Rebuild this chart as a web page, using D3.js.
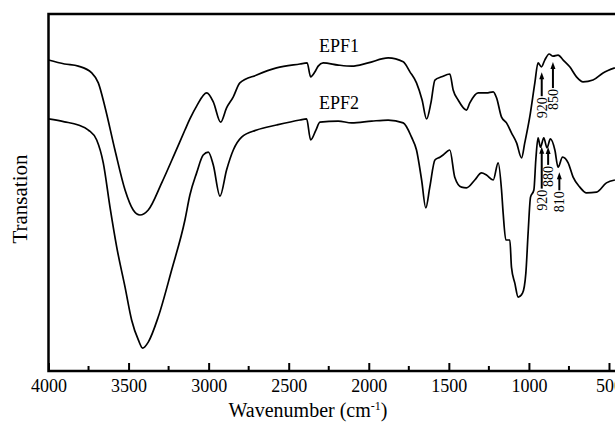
<!DOCTYPE html>
<html>
<head>
<meta charset="utf-8">
<script src="https://cdn.jsdelivr.net/npm/d3@7"></script>
<style>
  body { margin: 0; background: #fff; }
  text { font-family: "Liberation Serif", "Times New Roman", serif; fill: #000; }
</style>
</head>
<body>
<svg id="chart" width="615" height="423"></svg>
<script>
// wavenumber (cm-1) and transmittance (arbitrary)
var epf1Wn = [4000, 3900, 3814, 3730, 3689, 3647, 3585, 3522, 3471, 3429, 3377, 3293, 3210, 3148, 3117, 3075, 3012, 2971, 2925, 2888, 2846, 2805, 2700, 2576, 2430, 2385, 2363, 2336, 2316, 2285, 2191, 2107, 2004, 1879, 1785, 1743, 1702, 1667, 1639, 1612, 1587, 1545, 1494, 1473, 1442, 1390, 1369, 1317, 1265, 1223, 1202, 1171, 1140, 1109, 1077, 1046, 1026, 995, 963, 943, 922, 901, 874, 849, 818, 786, 745, 703, 662, 600, 537, 463];
var epf1T  = [87.1, 86.0, 85.4, 83.5, 80.7, 73.9, 61.9, 50.7, 45.1, 43.7, 45.1, 52.7, 61.1, 67.5, 70.6, 74.2, 77.9, 75.4, 69.7, 73.7, 76.8, 80.7, 82.9, 84.9, 86.0, 86.3, 82.4, 83.8, 85.4, 86.3, 85.7, 85.4, 86.3, 87.7, 86.6, 83.8, 80.7, 75.9, 70.6, 75.1, 81.5, 82.4, 83.2, 78.7, 75.9, 73.1, 75.1, 77.9, 77.9, 78.2, 76.5, 71.1, 69.5, 66.7, 63.9, 59.7, 63.9, 71.1, 80.7, 86.3, 85.2, 87.1, 88.8, 88.2, 88.5, 87.1, 85.2, 82.4, 81.0, 81.5, 83.5, 84.9];

var epf2Wn = [4000, 3900, 3814, 3751, 3699, 3658, 3616, 3574, 3522, 3481, 3439, 3412, 3377, 3315, 3231, 3148, 3117, 3075, 3034, 3002, 2971, 2929, 2888, 2846, 2794, 2700, 2576, 2430, 2388, 2363, 2330, 2305, 2191, 2107, 1982, 1879, 1785, 1733, 1702, 1670, 1644, 1619, 1587, 1556, 1536, 1494, 1463, 1421, 1390, 1338, 1296, 1265, 1223, 1192, 1171, 1161, 1144, 1119, 1109, 1088, 1067, 1040, 1019, 1005, 990, 969, 957, 943, 928, 907, 887, 866, 838, 818, 790, 755, 724, 682, 641, 578, 516, 463];
var epf2T  = [70.6, 69.8, 68.9, 67.5, 64.7, 58.3, 45.9, 34.7, 23.5, 14.3, 8.7, 6.4, 8.1, 15.1, 28.3, 42.3, 49.3, 55.5, 60.5, 61.3, 57.7, 49.0, 56.3, 61.9, 65.5, 67.5, 68.9, 70.3, 70.6, 64.7, 67.5, 69.7, 70.0, 69.5, 70.0, 70.3, 69.5, 65.5, 61.9, 53.5, 45.7, 51.5, 59.1, 59.9, 60.5, 61.9, 54.3, 51.5, 51.3, 53.5, 55.5, 54.9, 53.5, 58.3, 50.7, 44.3, 36.7, 36.7, 29.1, 24.6, 20.7, 21.8, 27.5, 38.7, 48.7, 50.7, 59.1, 65.3, 62.7, 65.3, 62.5, 65.0, 61.9, 57.1, 59.9, 58.3, 54.3, 51.5, 49.9, 50.1, 52.7, 53.5];

var seriesNames = ["EPF1", "EPF2"];
var xTicks = [4000, 3500, 3000, 2500, 2000, 1500, 1000, 500];
var xMinor = [3750, 3250, 2750, 2250, 1750, 1250, 750];

// band labels marked with arrows
var epf1Bands = [920, 850];
var epf2Bands = [920, 880, 810];

var svg = d3.select("#chart");
var margin = {left: 48.5, top: 14, bottom: 371, right: 625};

var x = d3.scaleLinear().domain([4000, 400]).range([margin.left, margin.right]);
var y = d3.scaleLinear().domain([0, 100]).range([margin.bottom, margin.top]);

var line = d3.line()
    .x(d => x(d[0]))
    .y(d => y(d[1]))
    .curve(d3.curveMonotoneX);

var epf1 = d3.zip(epf1Wn, epf1T);
var epf2 = d3.zip(epf2Wn, epf2T);

[epf1, epf2].forEach(s => {
    svg.append("path")
       .datum(s)
       .attr("d", line)
       .attr("fill", "none")
       .attr("stroke", "#000")
       .attr("stroke-width", 1.7)
       .attr("stroke-linejoin", "round");
});

// frame
svg.append("rect")
   .attr("x", margin.left)
   .attr("y", margin.top)
   .attr("width", margin.right - margin.left)
   .attr("height", margin.bottom - margin.top)
   .attr("fill", "none")
   .attr("stroke", "#000")
   .attr("stroke-width", 2.5);

// bottom axis, ticks pointing in
var xAxis = svg.append("g")
   .attr("transform", "translate(0," + margin.bottom + ")")
   .call(d3.axisBottom(x).tickValues(xTicks).tickSize(-8).tickPadding(8).tickFormat(d3.format("d")));

xAxis.select(".domain").remove();
xAxis.selectAll(".tick line").attr("stroke-width", 2);
xAxis.selectAll("text").style("font-size", "18px").attr("font-family", null);

svg.append("g")
   .attr("transform", "translate(0," + margin.bottom + ")")
   .selectAll("line")
   .data(xMinor)
   .enter()
   .append("line")
   .attr("x1", d => x(d))
   .attr("x2", d => x(d))
   .attr("y1", 0)
   .attr("y2", -5)
   .attr("stroke", "#000")
   .attr("stroke-width", 2);

// axis titles
var title = svg.append("text")
   .attr("x", 308)
   .attr("y", 417)
   .attr("text-anchor", "middle")
   .style("font-size", "20px");
title.append("tspan").text("Wavenumber (cm");
title.append("tspan").attr("dy", -7).style("font-size", "12px").text("-1");
title.append("tspan").attr("dy", 7).text(")");

svg.append("text")
   .attr("transform", "translate(27,199) rotate(-90)")
   .attr("text-anchor", "middle")
   .style("font-size", "21px")
   .text("Transation");

// series names
svg.selectAll(".sname")
   .data(seriesNames)
   .enter()
   .append("text")
   .attr("class", "sname")
   .attr("x", 339)
   .attr("y", (d, i) => i === 0 ? 52 : 109)
   .attr("text-anchor", "middle")
   .style("font-size", "18px")
   .text(d => d);

function bandArrows(series, bands, gap, lens) {
    var valAt = wn => {
        var i = d3.bisector(d => -d[0]).left(series, -wn);
        var a = series[Math.max(i - 1, 0)], b = series[Math.min(i, series.length - 1)];
        if (a[0] === b[0]) return a[1];
        return a[1] + (b[1] - a[1]) * (wn - a[0]) / (b[0] - a[0]);
    };
    bands.forEach((wn, k) => {
        var cx = x(wn);
        var top = y(valAt(wn)) + gap[k];
        var bot = top + lens[k];
        svg.append("line")
           .attr("x1", cx).attr("x2", cx)
           .attr("y1", bot).attr("y2", top + 5)
           .attr("stroke", "#000")
           .attr("stroke-width", 2);
        svg.append("path")
           .attr("d", d3.line()([[cx - 2.5, top + 7], [cx, top], [cx + 2.5, top + 7]]) + "Z")
           .attr("fill", "#000");
        svg.append("text")
           .attr("transform", "translate(" + (cx + 5) + "," + (bot + 1) + ") rotate(-90)")
           .attr("text-anchor", "end")
           .style("font-size", "14px")
           .text(wn);
    });
}

bandArrows(epf1, epf1Bands, [6, 6], [24, 26]);
bandArrows(epf2, epf2Bands, [3, 2, 8], [42, 18, 18]);
</script>
</body>
</html>
